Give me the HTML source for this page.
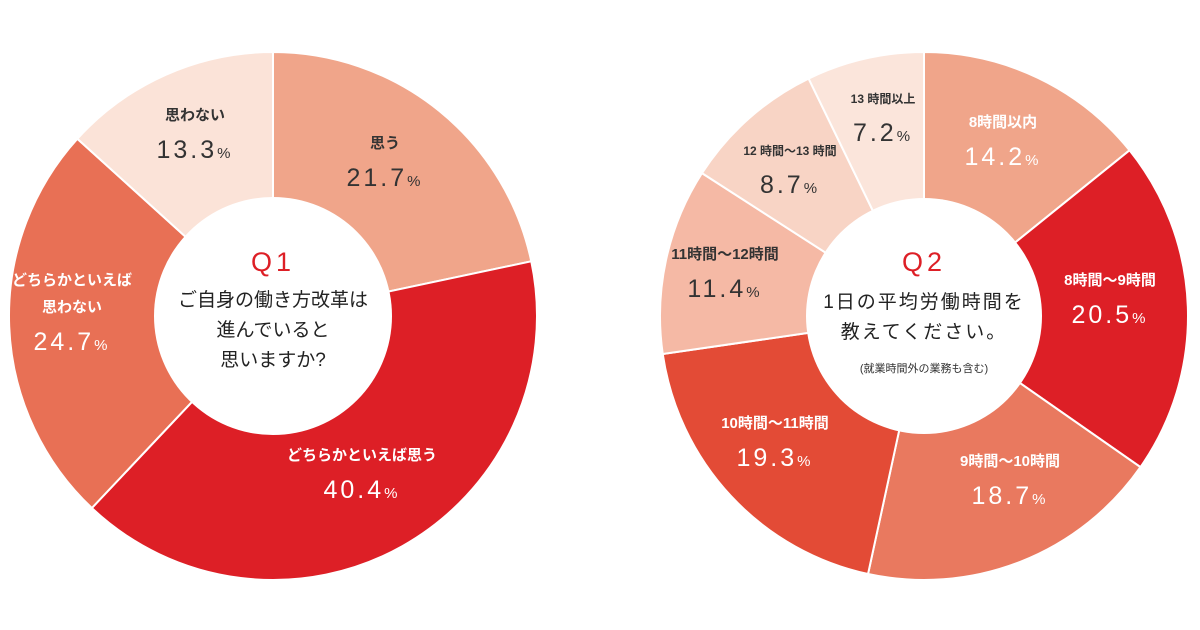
<!DOCTYPE html>
<html><head><meta charset="utf-8"><style>
body{margin:0;background:#fff;width:1200px;height:630px;overflow:hidden}
svg{display:block;font-family:"Liberation Sans","Noto Sans CJK JP",sans-serif}
</style></head><body>
<svg id="c" width="1200" height="630" viewBox="0 0 1200 630"></svg>
<script>
const q1Labels=[["思う"],["どちらかといえば思う"],["どちらかといえば","思わない"],["思わない"]];
const q1Values=[21.7,40.4,24.7,13.3];
const q1Colors=["#f0a58a","#dd1f26","#e87055","#fbe3d8"];
const q1Pos=[[385,148],[362,460],[72,285],[195,120]];
const q1Dark=[true,false,false,true];
const q2Labels=[["8時間以内"],["8時間～9時間"],["9時間～10時間"],["10時間～11時間"],["11時間～12時間"],["12 時間～13 時間"],["13 時間以上"]];
const q2Values=[14.2,20.5,18.7,19.3,11.4,8.7,7.2];
const q2Colors=["#f0a58a","#dd1f26","#e9795f","#e34b36","#f5b9a5","#f8d4c5","#fbe5db"];
const q2Pos=[[1003,127],[1110,285],[1010,466],[775,428],[725,259],[790,155],[883,103]];
const q2Dark=[false,false,false,false,true,true,true];
const q2Small=[false,false,false,false,false,true,true];
const NS="http://www.w3.org/2000/svg";
const svg=document.getElementById('c');
function mk(t,a,p){const e=document.createElementNS(NS,t);for(const k in a)e.setAttribute(k,a[k]);(p||svg).appendChild(e);return e;}
function donut(cx,cy,R,r,vals,cols,id){
  const tot=vals.reduce((a,b)=>a+b,0);let a0=0;
  vals.forEach((v,i)=>{
    const a1=a0+v/tot*2*Math.PI;
    const p=(a)=>[cx+R*Math.sin(a),cy-R*Math.cos(a)];
    const s=p(a0),e=p(a1),lg=(a1-a0)>Math.PI?1:0;
    const el=mk('path',{d:`M${cx},${cy}L${s[0]},${s[1]}A${R},${R} 0 ${lg} 1 ${e[0]},${e[1]}Z`,fill:cols[i],stroke:'#fff','stroke-width':2});
    
    
    a0=a1;
  });
  const c=mk('circle',{cx:cx,cy:cy,r:r,fill:'#fff'});
  
  
}
function labels(labs,vals,pos,dark,small,id){
  labs.forEach((l,i)=>{
    const col=dark[i]?'#333':'#fff';const [x,y]=pos[i];
    const fs=small&&small[i]?12:15;
    l.forEach((ln,j)=>{
      const t=mk('text',{x:x,y:y+j*27,'text-anchor':'middle','font-size':fs,'font-weight':'bold',fill:col});t.textContent=ln;
      
      
    });
    const vy=y+(l.length-1)*27+38;
    const t=mk('text',{x:x,y:vy,'text-anchor':'middle','font-size':25,fill:col,'letter-spacing':'3'});
    
    
    t.textContent=vals[i].toFixed(1);
    const s=mk('tspan',{'font-size':15},t);s.textContent='%';
  });
}
donut(273,316,264,119,q1Values,q1Colors,'q1');
donut(924,316,264,118,q2Values,q2Colors,'q2');
labels(q1Labels,q1Values,q1Pos,q1Dark,null,'q1');
labels(q2Labels,q2Values,q2Pos,q2Dark,q2Small,'q2');
function txt(x,y,s,fs,col,name,ls){const t=mk('text',{x:x,y:y,'text-anchor':'middle','font-size':fs,fill:col,'letter-spacing':ls||0});t.textContent=s;
}
txt(273,271,'Q1',27,'#dd1f26','q1-title',4);
txt(273,306,'ご自身の働き方改革は',19,'#222','q1-question');
txt(273,336,'進んでいると',19,'#222','q1-question');
txt(273,366,'思いますか?',19,'#222','q1-question');
txt(924,271,'Q2',27,'#dd1f26','q2-title',4);
txt(924,308,'1日の平均労働時間を',19,'#222','q2-question',2);
txt(924,338,'教えてください。',19,'#222','q2-question',2);
txt(924,372,'(就業時間外の業務も含む)',11,'#333','q2-note');
</script>
</body></html>
